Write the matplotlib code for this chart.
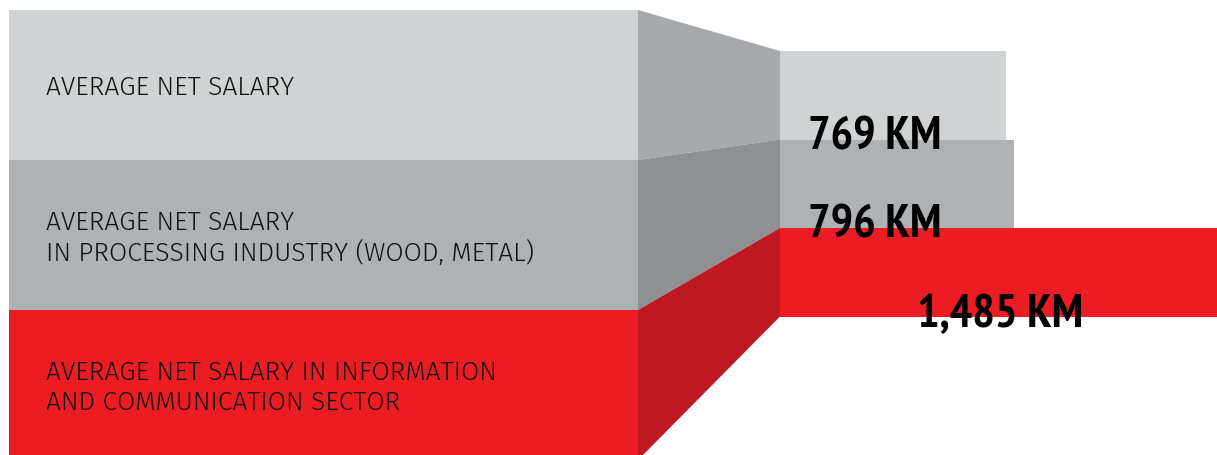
import numpy as np
import matplotlib.pyplot as plt
from matplotlib.patches import Polygon

# salary categories and values (KM)
etiquetas = ["AVERAGE NET SALARY",
             "AVERAGE NET SALARY\nIN PROCESSING INDUSTRY (WOOD, METAL)",
             "AVERAGE NET SALARY IN INFORMATION\nAND COMMUNICATION SECTOR"]
valores = [769, 796, 1485]
textos = ["769 KM", "796 KM", "1,485 KM"]

colores = ["#d0d3d4", "#afb2b5", "#ec1c24"]
colores_lado = ["#a7a9ac", "#8f9092", "#be1820"]

W, H = 1217, 456
fig = plt.figure(figsize=(W / 100, H / 100), dpi=100)
ax = fig.add_axes([0, 0, 1, 1])
ax.set_xlim(0, W)
ax.set_ylim(H, 0)
ax.axis("off")

# left block
x_izq, x_der = 9, 638
alto_izq = 150
y0_izq = 11
# bars
x_barra = 780
alto_barra = 88.5
y0_barra = 52
px_km = (W - x_barra) / max(valores)

fuente_txt = ["Fira Sans", "DejaVu Sans"]
fuente_val = ["PT Sans Narrow", "DejaVu Sans"]

for i in range(3):
    t = y0_izq + i * alto_izq
    b = t + alto_izq
    ax.add_patch(plt.Rectangle((x_izq, t), x_der - x_izq, alto_izq,
                               color=colores[i], lw=0))
    rt = y0_barra + i * alto_barra
    rb = rt + alto_barra
    ax.add_patch(Polygon([(x_der, t), (x_barra, rt), (x_barra, rb), (x_der, b)],
                         closed=True, color=colores_lado[i], lw=0))

ys = y0_barra + alto_barra * (np.arange(3) + 0.5)
ax.barh(ys, np.array(valores) * px_km, height=alto_barra, left=x_barra,
        color=colores, lw=0)

for i, txt in enumerate(etiquetas):
    yc = y0_izq + alto_izq * (i + 0.5) + 2
    ax.text(46, yc, txt, fontsize=19, family=fuente_txt, weight=300,
            va="center", ha="left", linespacing=1.25, color="#111111")

pos_val = [(808, 138), (808, 226), (917, 315)]
for (x, y), txt in zip(pos_val, textos):
    ax.text(x, y, txt, fontsize=34, family=fuente_val, weight="bold",
            va="center", ha="left", color="black")

plt.savefig("out.png", dpi=100)
